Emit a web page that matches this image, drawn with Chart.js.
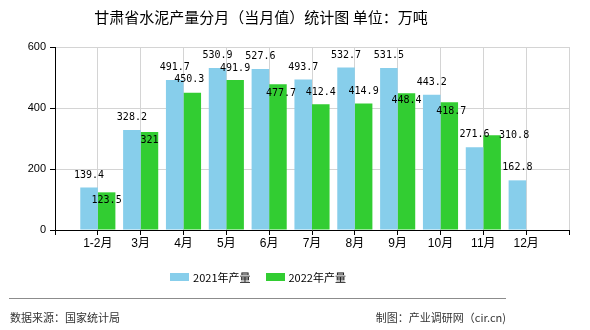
<!DOCTYPE html>
<html lang="zh-CN">
<head>
<meta charset="utf-8">
<title>甘肃省水泥产量分月（当月值）统计图</title>
<script src="https://cdn.jsdelivr.net/npm/chart.js@4.4.1/dist/chart.umd.min.js"></script>
<style>
    html, body { margin: 0; padding: 0; background: #fff; }
    .wrap {
        position: relative; width: 590px; height: 330px; overflow: hidden;
        font-family: 'Noto Sans CJK SC', 'Liberation Sans', sans-serif; color: #000;
    }
    #chart { position: absolute; left: 0; top: 0; }
    .title {
        position: absolute; left: 0; top: 7px; width: 522px;
        text-align: center; font-size: 15px; line-height: 20px;
    }
    .legend {
        position: absolute; left: 0; top: 269px; width: 516px;
        display: flex; justify-content: center; gap: 15px;
        font-size: 11px; line-height: 16px;
    }
    .legend .item { display: flex; align-items: center; }
    .legend .box { display: inline-block; width: 19px; height: 8px; margin-right: 4px; }
    .rule { position: absolute; left: 9px; top: 298px; width: 497px; height: 1px; background: #8c8c8c; }
    .source, .maker { position: absolute; top: 309px; font-size: 11px; line-height: 16px; color: #333; }
    .source { left: 10px; }
    .maker { right: 84px; }
</style>
</head>
<body>
<div class="wrap">
    <canvas id="chart" width="590" height="330"></canvas>
    <div class="title">甘肃省水泥产量分月（当月值）统计图 单位：万吨</div>
    <div class="legend" id="legend"></div>
    <div class="rule"></div>
    <div class="source">数据来源：国家统计局</div>
    <div class="maker">制图：产业调研网（cir.cn)</div>
</div>
<script>
const months = ['1-2月', '3月', '4月', '5月', '6月', '7月', '8月', '9月', '10月', '11月', '12月'];
const output2021 = [139.4, 328.2, 491.7, 530.9, 527.6, 493.7, 532.7, 531.5, 443.2, 271.6, 162.8];
const output2022 = [123.5, 321, 450.3, 491.9, 477.7, 412.4, 414.9, 448.4, 418.7, 310.8, null];
const yTicks = [0, 200, 400, 600];

(() => {
    // empty slot at both ends so the month ticks sit between the bar pairs
    const pad = (arr) => [null, ...arr, null];
    const labels = ['', ...months, ''];

    const valueLabels = {
        id: 'valueLabels',
        afterDatasetsDraw(chart, args, opts) {
            const { ctx } = chart;
            ctx.save();
            ctx.font = '10px "DejaVu Sans Mono", monospace';
            ctx.fillStyle = '#000';
            ctx.textAlign = 'center';
            ctx.textBaseline = 'middle';
            chart.data.datasets.forEach((ds, di) => {
                const meta = chart.getDatasetMeta(di);
                const nudges = opts.nudge[di] || [];
                meta.data.forEach((bar, i) => {
                    const v = ds.data[i];
                    if (v === null || v === undefined) {
                        return;
                    }
                    const n = nudges[i - 1] || [0, -12.5];
                    ctx.fillText(String(v), bar.x + n[0], bar.y + n[1]);
                });
            });
            ctx.restore();
        }
    };

    const chart = new Chart(document.getElementById('chart'), {
        type: 'bar',
        data: {
            labels,
            datasets: [
                {
                    label: '2021年产量',
                    data: pad(output2021),
                    backgroundColor: '#87ceeb'
                },
                {
                    label: '2022年产量',
                    data: pad(output2022),
                    backgroundColor: '#32cd32'
                }
            ]
        },
        options: {
            responsive: false,
            animation: false,
            categoryPercentage: 0.82,
            barPercentage: 1,
            layout: { padding: { left: 0, top: 47, right: 21, bottom: 75 } },
            plugins: {
                legend: { display: false },
                tooltip: { enabled: false },
                valueLabels: {
                    nudge: [
                        [],
                        [[0, 8], [0, 8], [-3, -13], [0, -11.5], [3, 9], [0, -12], [0, -12], [0, 7], [2, 9], [22, 0]]
                    ]
                }
            },
            scales: {
                x: {
                    offset: false,
                    afterFit: (s) => { s.height = 25; },
                    grid: {
                        offset: false,
                        color: (c) => (c.index === 0 ? 'rgba(0,0,0,0)' : '#d4d4d4'),
                        tickColor: '#000',
                        tickLength: 5
                    },
                    border: { color: '#000', width: 1 },
                    ticks: {
                        color: '#000',
                        padding: 1,
                        maxRotation: 0,
                        autoSkip: false,
                        font: { family: "'Liberation Sans', 'Noto Sans CJK SC', sans-serif", size: 12 }
                    }
                },
                y: {
                    min: 0,
                    max: 600,
                    afterFit: (s) => { s.width = 55; },
                    afterBuildTicks: (s) => { s.ticks = yTicks.map((v) => ({ value: v })); },
                    grid: {
                        color: '#d4d4d4',
                        tickColor: '#000',
                        tickLength: 5
                    },
                    border: { color: '#000', width: 1 },
                    ticks: {
                        color: '#000',
                        padding: 4,
                        font: { family: "'Liberation Sans', sans-serif", size: 11 }
                    }
                }
            }
        },
        plugins: [valueLabels]
    });

    const legend = document.getElementById('legend');
    chart.data.datasets.forEach((ds) => {
        const item = document.createElement('div');
        item.className = 'item';
        const box = document.createElement('span');
        box.className = 'box';
        box.style.background = ds.backgroundColor;
        const text = document.createElement('span');
        text.textContent = ds.label;
        item.appendChild(box);
        item.appendChild(text);
        legend.appendChild(item);
    });
})();
</script>
</body>
</html>
